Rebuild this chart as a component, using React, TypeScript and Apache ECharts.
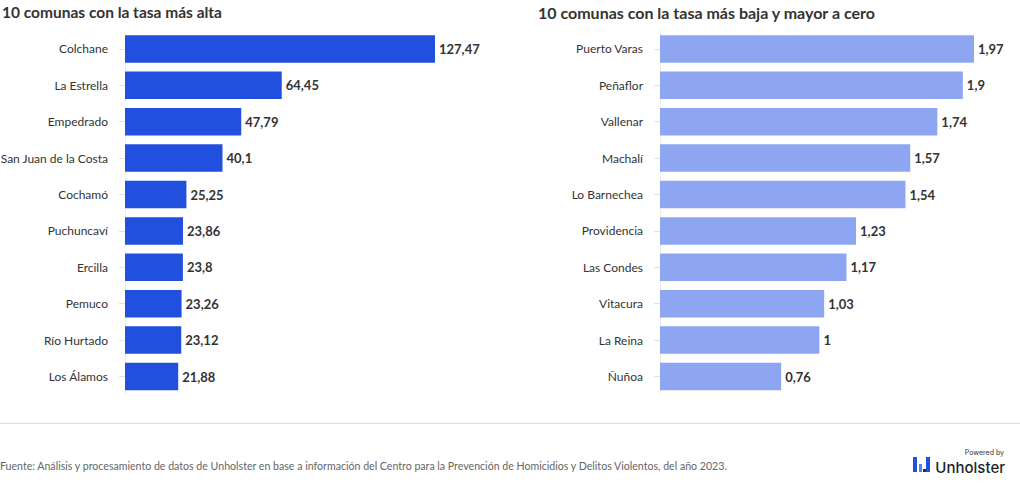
import React, { useEffect, useRef } from "react";
import * as echarts from "echarts";

const leftTitle = "10 comunas con la tasa más alta";
const rightTitle = "10 comunas con la tasa más baja y mayor a cero";
const leftCategories = ["Colchane", "La Estrella", "Empedrado", "San Juan de la Costa", "Cochamó", "Puchuncaví", "Ercilla", "Pemuco", "Río Hurtado", "Los Álamos"];
const leftValues = [127.47, 64.45, 47.79, 40.1, 25.25, 23.86, 23.8, 23.26, 23.12, 21.88];
const rightCategories = ["Puerto Varas", "Peñaflor", "Vallenar", "Machalí", "Lo Barnechea", "Providencia", "Las Condes", "Vitacura", "La Reina", "Ñuñoa"];
const rightValues = [1.97, 1.9, 1.74, 1.57, 1.54, 1.23, 1.17, 1.03, 1, 0.76];
const sourceText = "Fuente: Análisis y procesamiento de datos de Unholster en base a información del Centro para la Prevención de Homicidios y Delitos Violentos, del año 2023.";

const FONT = "Lato";
const fmt = (v: number) => String(v).replace(".", ",");

export default function App() {
  const ref = useRef<HTMLDivElement>(null);
  useEffect(() => {
    if (!ref.current) return;
    const chart = echarts.init(ref.current, undefined, { renderer: "svg" });
    const yAxisCommon = {
      type: "category" as const,
      inverse: true,
      axisLine: { show: true, lineStyle: { color: "#eeeeee", width: 1 } },
      axisTick: { show: true, alignWithLabel: true, length: 6, lineStyle: { color: "#e2e2e2" } },
      axisLabel: { color: "#333333", fontSize: 12, fontFamily: FONT, margin: 17 },
    };
    const xAxisCommon = {
      type: "value" as const,
      min: 0,
      show: false,
      splitLine: { show: false },
    };
    const labelCommon = {
      show: true,
      position: "right" as const,
      distance: 4,
      color: "#333333",
      fontSize: 13,
      fontWeight: "bold" as const,
      fontFamily: FONT,
      formatter: (p: any) => fmt(p.value),
    };
    chart.setOption({
      animation: false,
      textStyle: { fontFamily: FONT },
      title: [
        { text: leftTitle, left: 2, top: 4, padding: 0, textStyle: { fontSize: 15.5, fontWeight: "bold", color: "#333333", fontFamily: FONT } },
        { text: rightTitle, left: 538, top: 4, padding: 0, textStyle: { fontSize: 16, fontWeight: "bold", color: "#333333", fontFamily: FONT } },
      ],
      grid: [
        { left: 125, top: 30.7, width: 310, height: 364, containLabel: false, outerBoundsMode: "none" },
        { left: 660, top: 30.7, width: 314, height: 364, containLabel: false, outerBoundsMode: "none" },
      ],
      xAxis: [
        { ...xAxisCommon, gridIndex: 0, max: leftValues[0] },
        { ...xAxisCommon, gridIndex: 1, max: rightValues[0] },
      ],
      yAxis: [
        { ...yAxisCommon, gridIndex: 0, data: leftCategories },
        { ...yAxisCommon, gridIndex: 1, data: rightCategories },
      ],
      series: [
        {
          type: "bar",
          xAxisIndex: 0,
          yAxisIndex: 0,
          data: leftValues,
          barWidth: 27.5,
          itemStyle: { color: "#2150DF" },
          label: labelCommon,
        },
        {
          type: "bar",
          xAxisIndex: 1,
          yAxisIndex: 1,
          data: rightValues,
          barWidth: 27.5,
          itemStyle: { color: "#8EA6F2" },
          label: labelCommon,
        },
      ],
      graphic: [
        { type: "line", shape: { x1: 0, y1: 423.5, x2: 1020, y2: 423.5 }, style: { stroke: "#dddddd", lineWidth: 1 } },
        { type: "text", x: 0, y: 466, style: { text: sourceText, fill: "#666666", fontSize: 10.6, fontFamily: FONT, textVerticalAlign: "middle" } },
        { type: "rect", shape: { x: 913, y: 457, width: 4, height: 15 }, style: { fill: "#2150DF" } },
        { type: "rect", shape: { x: 919, y: 464, width: 3, height: 8 }, style: { fill: "#5B7FEA" } },
        { type: "rect", shape: { x: 923, y: 469, width: 3, height: 3 }, style: { fill: "#1a2a6c" } },
        { type: "rect", shape: { x: 926, y: 457, width: 4, height: 15 }, style: { fill: "#2150DF" } },
        { type: "text", x: 1004, y: 452.5, style: { text: "Powered by", fill: "#333333", fontSize: 7, fontFamily: "Inter", align: "right", textVerticalAlign: "middle" } },
        { type: "text", x: 1005, y: 467.5, style: { text: "Unholster", fill: "#1e1e2a", fontSize: 15, fontFamily: "Inter", fontWeight: 500, align: "right", textVerticalAlign: "middle" } },
      ],
    });
    return () => chart.dispose();
  }, []);
  return <div ref={ref} style={{ position: "fixed", left: 0, top: 0, width: 1020, height: 490, background: "#ffffff" }} />;
}
